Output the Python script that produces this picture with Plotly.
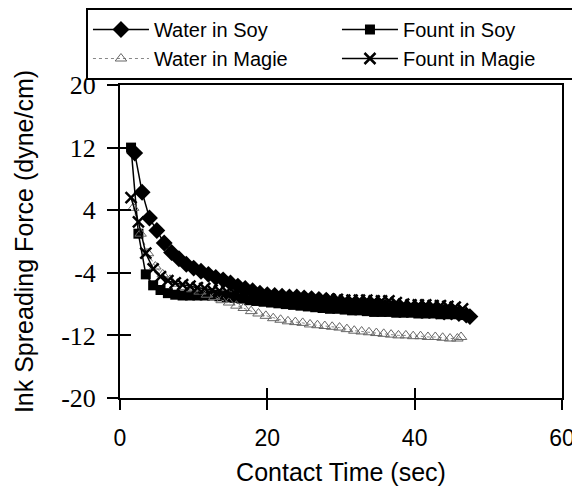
import plotly.graph_objects as go

# ---- data ----
t_water_soy = [2, 3, 4, 5, 6, 7, 8, 9, 10, 11, 12, 13, 14, 15, 16, 17, 18, 19, 20, 21, 22, 23, 24, 25,
               26, 27, 28, 29, 30, 31, 32, 33, 34, 35, 36, 37, 38, 39, 40, 41, 42, 43, 44, 45, 46, 47, 47.5]
f_water_soy = [11.3, 6.3, 3.0, 1.4, -0.2, -1.4, -2.2, -2.9, -3.4, -3.8, -4.2, -4.6, -4.9, -5.3, -5.7, -6.0,
               -6.3, -6.6, -6.8, -6.9, -7.0, -7.1, -7.1, -7.2, -7.3, -7.4, -7.5, -7.6, -7.8, -7.9, -8.0, -8.1,
               -8.2, -8.3, -8.4, -8.5, -8.6, -8.6, -8.7, -8.8, -8.8, -8.9, -9.0, -9.0, -9.2, -9.4, -9.6]

t_fount_soy = [1.5, 2.5, 3.5, 4.5, 5.5, 6.5, 7.5, 8.5, 9.5, 10.5, 11.5, 12.5, 13.5, 14.5, 15.5, 16.5, 17.5,
               18.5, 19.5, 20.5, 21.5, 22.5, 23.5, 24.5, 25.5, 26.5, 27.5, 28.5, 29.5, 30.5, 31.5, 32.5, 33.5,
               34.5, 35.5, 36.5, 37.5, 38.5, 39.5, 40.5, 41.5, 42.5, 43.5, 44.5, 45.5, 46.5]
f_fount_soy = [12.0, 1.0, -4.2, -5.6, -6.2, -6.6, -6.8, -6.9, -6.9, -6.9, -6.9, -6.9, -7.0, -7.1, -7.2, -7.3,
               -7.5, -7.6, -7.7, -7.8, -7.9, -8.0, -8.1, -8.2, -8.3, -8.4, -8.5, -8.6, -8.6, -8.7, -8.8, -8.8,
               -8.9, -9.0, -9.0, -9.0, -9.1, -9.1, -9.1, -9.2, -9.2, -9.2, -9.3, -9.3, -9.3, -9.4]

t_water_magie = [1.8, 2.8, 3.8, 4.8, 5.8, 6.8, 7.8, 8.8, 9.8, 10.8, 11.8, 12.8, 13.8, 14.8, 15.8, 16.8, 17.8,
                 18.8, 19.8, 20.8, 21.8, 22.8, 23.8, 24.8, 25.8, 26.8, 27.8, 28.8, 29.8, 30.8, 31.8, 32.8,
                 33.8, 34.8, 35.8, 36.8, 37.8, 38.8, 39.8, 40.8, 41.8, 42.8, 43.8, 44.8, 45.8, 46.3]
f_water_magie = [4.3, 1.0, -1.5, -3.2, -4.2, -4.9, -5.4, -5.8, -6.1, -6.4, -6.8, -7.1, -7.5, -7.8, -8.2, -8.5,
                 -8.9, -9.2, -9.5, -9.8, -10.0, -10.2, -10.3, -10.4, -10.6, -10.7, -10.8, -10.9, -11.0, -11.2,
                 -11.4, -11.5, -11.6, -11.7, -11.8, -11.9, -12.0, -12.0, -12.1, -12.1, -12.2, -12.2, -12.3,
                 -12.4, -12.4, -12.2]

t_fount_magie = [1.5, 2.5, 3.5, 4.5, 5.5, 6.5, 7.5, 8.5, 9.5, 10.5, 11.5, 12.5, 13.5, 14.5, 15.5, 16.5, 17.5,
                 18.5, 19.5, 20.5, 21.5, 22.5, 23.5, 24.5, 25.5, 26.5, 27.5, 28.5, 29.5, 30.5, 31.5, 32.5,
                 33.5, 34.5, 35.5, 36.5, 37.5, 38.5, 39.5, 40.5, 41.5, 42.5, 43.5, 44.5, 45.5, 46.5]
f_fount_magie = [5.6, 2.5, -1.5, -3.5, -4.5, -5.0, -5.3, -5.5, -5.7, -5.9, -6.0, -6.2, -6.3, -6.4, -6.5, -6.6,
                 -6.7, -6.8, -6.9, -7.0, -7.0, -7.1, -7.2, -7.2, -7.3, -7.3, -7.4, -7.4, -7.4, -7.5, -7.5, -7.5,
                 -7.5, -7.6, -7.6, -7.6, -7.8, -8.0, -8.1, -8.1, -8.1, -8.2, -8.2, -8.3, -8.4, -8.6]

x_ticks = [0, 20, 40, 60]
x_ticktext = ["0", "20", "40", "60"]
y_ticks = [-20, -12, -4, 4, 12, 20]
y_ticktext = ["-20", "-12", "-4", "4", "12", "20"]
x_title = "Contact Time (sec)"
y_title = "Ink Spreading Force (dyne/cm)"

SANS = "Liberation Sans"
SERIF = "Liberation Serif"

fig = go.Figure()
fig.add_trace(go.Scatter(x=t_water_soy, y=f_water_soy, name="Water in Soy", mode="lines+markers",
                         line=dict(color="black", width=1.5),
                         marker=dict(symbol="diamond", size=13, color="black")))
fig.add_trace(go.Scatter(x=t_fount_soy, y=f_fount_soy, name="Fount in Soy", mode="lines+markers",
                         line=dict(color="black", width=1.5),
                         marker=dict(symbol="square", size=10, color="black")))
fig.add_trace(go.Scatter(x=t_water_magie, y=f_water_magie, name="Water in Magie", mode="lines+markers",
                         line=dict(color="#888888", width=1, dash="dot"),
                         marker=dict(symbol="triangle-up-open", size=10, color="#666666",
                                     line=dict(width=1))))
fig.add_trace(go.Scatter(x=t_fount_magie, y=f_fount_magie, name="Fount in Magie", mode="lines+markers",
                         line=dict(color="black", width=1.5),
                         marker=dict(symbol="x-thin-open", size=11, color="black", line=dict(width=2.5))))
# empty trace carrying the overlay axes that draw the inner half of the crossing ticks
fig.add_trace(go.Scatter(x=[], y=[], xaxis="x2", yaxis="y2", showlegend=False, hoverinfo="skip"))

fig.update_layout(
    template="none",
    width=572, height=480,
    margin=dict(l=112, r=18, t=77, b=90, autoexpand=False),
    paper_bgcolor="white", plot_bgcolor="white",
    showlegend=True,
    legend=dict(orientation="h", x=-0.077, y=1.246, xanchor="left", yanchor="top",
                bordercolor="black", borderwidth=2, bgcolor="white",
                font=dict(family=SANS, size=20, color="black"),
                entrywidth=178, itemwidth=56, traceorder="normal", itemclick=False),
    xaxis=dict(range=[0, 60], tickvals=x_ticks, ticktext=x_ticktext, ticks="outside", ticklen=10,
               tickwidth=1.5, tickcolor="black", showline=True, linecolor="black", linewidth=2, mirror=True,
               showgrid=False, zeroline=False, automargin=False, ticklabeloverflow="allow",
               tickfont=dict(family=SANS, size=23, color="black"), ticklabelstandoff=8,
               title=dict(text=x_title, font=dict(family=SANS, size=25, color="black"), standoff=14)),
    yaxis=dict(range=[-20, 20], tickvals=y_ticks, ticktext=y_ticktext, ticks="outside", ticklen=11,
               tickwidth=1.5, tickcolor="black", showline=True, linecolor="black", linewidth=2, mirror=True,
               showgrid=False, zeroline=False, automargin=False, ticklabelstandoff=6,
               tickfont=dict(family=SERIF, size=26, color="black"),
               title=dict(text=y_title, font=dict(family=SANS, size=25, color="black"), standoff=20)),
    xaxis2=dict(range=[0, 60], overlaying="x", tickvals=x_ticks, ticks="inside", ticklen=10, tickwidth=1.5,
                tickcolor="black", showticklabels=False, showgrid=False, zeroline=False, showline=False),
    yaxis2=dict(range=[-20, 20], overlaying="y", tickvals=y_ticks[:-1], ticks="inside", ticklen=11,
                tickwidth=1.5, tickcolor="black", showticklabels=False, showgrid=False, zeroline=False,
                showline=False),
)

fig.write_html("out.html")
